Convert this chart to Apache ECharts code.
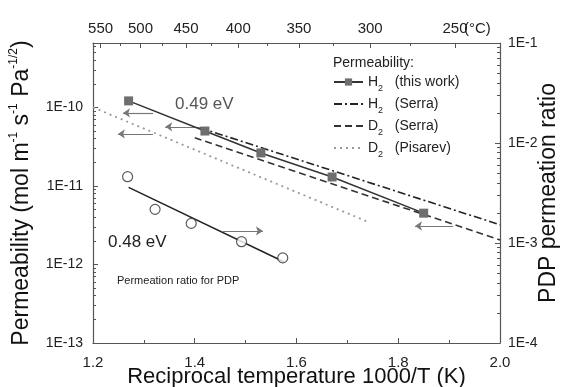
<!DOCTYPE html>
<html>
<head>
<meta charset="utf-8">
<script src="https://cdn.jsdelivr.net/npm/echarts@6/dist/echarts.min.js"></script>
<style>
  html, body { margin: 0; padding: 0; background: #fff; }
  #chart { width: 563px; height: 387px; }
</style>
</head>
<body>
<div id="chart"></div>
<script>
// top axis temperatures (°C)
const tempMajorC = [550, 500, 450, 400, 350, 300, 250];
const tempMinorC = [525, 475, 425, 375, 325, 275];

// permeability, mol m-1 s-1 Pa-1/2 vs 1000/T
const h2WorkX = [1.27, 1.42, 1.53, 1.67, 1.85];
const h2WorkY = [1.21e-10, 5.0e-11, 2.63e-11, 1.30e-11, 4.5e-12];
const h2SerraX = [1.41, 2.0];
const h2SerraY = [5.5e-11, 3.2e-12];
const d2SerraX = [1.40, 2.0];
const d2SerraY = [4.1e-11, 2.05e-12];
const d2PisarevX = [1.2, 1.74];
const d2PisarevY = [1.0e-10, 3.5e-12];

// PDP permeation ratio (right axis)
const pdpX = [1.268, 1.322, 1.393, 1.492, 1.573];
const pdpY = [4.6e-3, 2.17e-3, 1.57e-3, 1.03e-3, 7.1e-4];
const pdpFitX = [1.27, 1.575];
const pdpFitY = [3.6e-3, 6.5e-4];

// arrows: [fromX, fromY, toX, toY]
const arrowsLeft = [
  [1.318, 8.5e-11, 1.259, 8.5e-11],
  [1.318, 4.6e-11, 1.249, 4.6e-11],
  [1.410, 5.65e-11, 1.342, 5.65e-11],
  [1.908, 3.09e-12, 1.833, 3.09e-12]
];
const arrowsRight = [
  [1.4555, 1.32e-3, 1.534, 1.32e-3]
];

const leftMinLog = -13, leftMaxLog = -9.18;
const rightMinLog = -4, rightMaxLog = -1;

const zip = (xs, ys) => xs.map((x, i) => [x, ys[i]]);
const toInvT = c => 1000 / (c + 273.15);
const eLabel = v => {
  const l = Math.log10(v);
  return Math.abs(l - Math.round(l)) < 1e-6 ? '1E' + Math.round(l) : '';
};
const minorLogs = (lo, hi) => {
  const out = [];
  for (let n = Math.floor(lo); n < Math.ceil(hi); n++) {
    for (let k = 2; k <= 9; k++) {
      const v = n + Math.log10(k);
      if (v > lo && v < hi) out.push(v);
    }
  }
  return out;
};
const arrowData = list => list.map(a => [{ coord: [a[0], a[1]] }, { coord: [a[2], a[3]] }]);

const font = 'Liberation Sans, Arial, sans-serif';
const axisColor = '#555';

const chart = echarts.init(document.getElementById('chart'));

const legendNames = {
  'H2 (this work)': 'H{s|2}   (this work)',
  'H2 (Serra)': 'H{s|2}   (Serra)',
  'D2 (Serra)': 'D{s|2}   (Serra)',
  'D2 (Pisarev)': 'D{s|2}   (Pisarev)'
};

const arrowMark = data => ({
  silent: true,
  animation: false,
  symbol: ['none', 'arrow'],
  symbolSize: 7,
  label: { show: false },
  lineStyle: { color: '#777', width: 1.2, type: 'solid' },
  emphasis: { disabled: true },
  data: arrowData(data)
});

const option = {
  animation: false,
  textStyle: { fontFamily: font },
  grid: { left: 93, right: 63, top: 43, bottom: 44, containLabel: false, outerBoundsMode: 'none' },
  title: {
    text: 'Permeability:',
    left: 333, top: 56, padding: 0,
    textStyle: { fontSize: 14, fontWeight: 'normal', color: '#222', fontFamily: font }
  },
  legend: {
    orient: 'vertical',
    left: 333, top: 74, padding: 0,
    itemWidth: 29, itemHeight: 9, itemGap: 3,
    data: Object.keys(legendNames).map((n, i) => i === 0 ? { name: n } : { name: n, itemStyle: { opacity: 0 } }),
    formatter: n => legendNames[n],
    textStyle: {
      fontSize: 14, color: '#222', lineHeight: 16, fontFamily: font,
      rich: { s: { fontSize: 9, lineHeight: 9, verticalAlign: 'bottom', padding: [0, 0, -3, 0] } }
    }
  },
  graphic: [
    { type: 'text', left: 464, top: 21, style: { text: '(°C)', fill: '#222', font: '15px ' + font } },
    { type: 'text', left: 175, top: 96, style: { text: '0.49 eV', fill: '#555', font: '17px ' + font } },
    { type: 'text', left: 108, top: 234, style: { text: '0.48 eV', fill: '#222', font: '17px ' + font } },
    { type: 'text', left: 117, top: 275, style: { text: 'Permeation ratio for PDP', fill: '#222', font: '11px ' + font } }
  ],
  xAxis: [
    {
      type: 'value', min: 1.2, max: 2.0, interval: 0.2, position: 'bottom',
      name: 'Reciprocal temperature 1000/T (K)', nameLocation: 'middle', nameGap: 23, nameMoveOverlap: false,
      nameTextStyle: { fontSize: 22, color: '#111', fontFamily: font },
      axisLine: { lineStyle: { color: axisColor, width: 1.2 } },
      axisTick: { inside: true, length: 5, lineStyle: { color: axisColor } },
      minorTick: { show: true, splitNumber: 2, length: 3, lineStyle: { color: axisColor } },
      axisLabel: { fontSize: 15, color: '#222', margin: 12, formatter: v => v.toFixed(1) },
      splitLine: { show: false }
    },
    {
      type: 'value', min: 1.2, max: 2.0, position: 'top',
      axisLine: { lineStyle: { color: axisColor, width: 1.2 } },
      axisTick: { inside: true, length: 5, customValues: tempMajorC.map(toInvT), lineStyle: { color: axisColor } },
      axisLabel: {
        fontSize: 15, color: '#222', margin: 7,
        customValues: tempMajorC.map(toInvT),
        formatter: v => String(Math.round(1000 / v - 273.15))
      },
      splitLine: { show: false }
    },
    {
      type: 'value', min: 1.2, max: 2.0, position: 'top',
      axisLine: { show: false },
      axisTick: { inside: true, length: 3, customValues: tempMinorC.map(toInvT), lineStyle: { color: axisColor } },
      axisLabel: { show: false },
      splitLine: { show: false }
    }
  ],
  yAxis: [
    {
      type: 'log', logBase: 10, min: Math.pow(10, leftMinLog), max: Math.pow(10, leftMaxLog), position: 'left',
      name: 'Permeability (mol m{p|-1} s{p|-1} Pa{p|-1/2})', nameLocation: 'middle', nameGap: 57, nameRotate: 90,
      nameMoveOverlap: false,
      nameTextStyle: {
        fontSize: 23, color: '#111', fontFamily: font, lineHeight: 28,
        rich: { p: { fontSize: 12, lineHeight: 12, verticalAlign: 'top', fontFamily: font, color: '#111' } }
      },
      axisLine: { show: true, lineStyle: { color: axisColor, width: 1.2 } },
      axisTick: { inside: true, length: 5, lineStyle: { color: axisColor } },
      axisLabel: { fontSize: 14, color: '#222', margin: 10, formatter: eLabel },
      splitLine: { show: false }
    },
    {
      type: 'log', logBase: 10, min: Math.pow(10, rightMinLog), max: Math.pow(10, rightMaxLog), position: 'right',
      name: 'PDP permeation ratio', nameLocation: 'middle', nameGap: 37, nameRotate: 90,
      nameMoveOverlap: false,
      nameTextStyle: { fontSize: 23, color: '#111', fontFamily: font },
      axisLine: { show: true, lineStyle: { color: axisColor, width: 1.2 } },
      axisTick: { inside: true, length: 5, lineStyle: { color: axisColor } },
      axisLabel: { fontSize: 14, color: '#222', margin: 8, formatter: eLabel },
      splitLine: { show: false }
    },
    {
      type: 'value', min: leftMinLog, max: leftMaxLog, position: 'left',
      axisLine: { show: false },
      axisTick: { inside: true, length: 3, customValues: minorLogs(leftMinLog, leftMaxLog), lineStyle: { color: axisColor } },
      axisLabel: { show: false },
      splitLine: { show: false }
    },
    {
      type: 'value', min: rightMinLog, max: rightMaxLog, position: 'right',
      axisLine: { show: false },
      axisTick: { inside: true, length: 3, customValues: minorLogs(rightMinLog, rightMaxLog), lineStyle: { color: axisColor } },
      axisLabel: { show: false },
      splitLine: { show: false }
    }
  ],
  series: [
    {
      name: 'H2 (this work)', type: 'line', xAxisIndex: 0, yAxisIndex: 0,
      data: zip(h2WorkX, h2WorkY),
      symbol: 'rect', symbolSize: 9,
      itemStyle: { color: '#6e6e6e' },
      lineStyle: { color: '#333', width: 1.5 },
      markLine: arrowMark(arrowsLeft),
      z: 5
    },
    {
      name: 'H2 (Serra)', type: 'line', xAxisIndex: 0, yAxisIndex: 0,
      data: zip(h2SerraX, h2SerraY), symbol: 'none',
      itemStyle: { color: '#222' },
      lineStyle: { color: '#222', width: 1.6, type: [8, 3, 2, 3] }
    },
    {
      name: 'D2 (Serra)', type: 'line', xAxisIndex: 0, yAxisIndex: 0,
      data: zip(d2SerraX, d2SerraY), symbol: 'none',
      itemStyle: { color: '#333' },
      lineStyle: { color: '#333', width: 1.6, type: [7, 4] }
    },
    {
      name: 'D2 (Pisarev)', type: 'line', xAxisIndex: 0, yAxisIndex: 0,
      data: zip(d2PisarevX, d2PisarevY), symbol: 'none',
      itemStyle: { color: '#9a9a9a' },
      lineStyle: { color: '#9a9a9a', width: 1.8, type: [2, 4] }
    },
    {
      name: 'PDP fit', type: 'line', xAxisIndex: 0, yAxisIndex: 1,
      data: zip(pdpFitX, pdpFitY), symbol: 'none',
      lineStyle: { color: '#222', width: 1.5 }
    },
    {
      name: 'PDP ratio', type: 'scatter', xAxisIndex: 0, yAxisIndex: 1,
      data: zip(pdpX, pdpY),
      symbol: 'circle', symbolSize: 10,
      itemStyle: { color: '#fff', borderColor: '#333', borderWidth: 1.2 },
      markLine: arrowMark(arrowsRight),
      z: 5
    }
  ]
};

chart.setOption(option);
window.addEventListener('resize', () => chart.resize());
</script>
</body>
</html>
